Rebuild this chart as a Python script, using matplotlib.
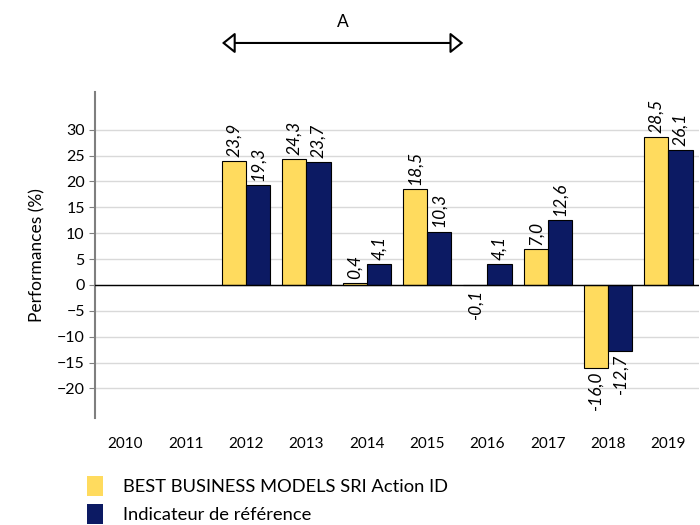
import numpy as np
import matplotlib.pyplot as plt
from matplotlib.patches import Patch

years = ['2010', '2011', '2012', '2013', '2014', '2015', '2016', '2017', '2018', '2019']
fund = [np.nan, np.nan, 23.9, 24.3, 0.4, 18.5, -0.1, 7.0, -16.0, 28.5]
bench = [np.nan, np.nan, 19.3, 23.7, 4.1, 10.3, 4.1, 12.6, -12.7, 26.1]
fund_name = 'BEST BUSINESS MODELS SRI Action ID'
bench_name = 'Indicateur de référence'

yellow = '#FFDB5E'
navy = '#0C1A63'

plt.rcParams['font.family'] = ['Lato', 'DejaVu Sans']

fig = plt.figure(figsize=(7, 5.25), dpi=100)
ax = fig.add_axes([0.136, 0.204, 0.862, 0.621])

x = np.arange(len(years))
w = 0.4
ax.bar(x - w / 2, fund, w, color=yellow, edgecolor='black', linewidth=0.8, zorder=3)
ax.bar(x + w / 2, bench, w, color=navy, edgecolor='black', linewidth=0.8, zorder=3)

for xs, vals in ((x - w / 2, fund), (x + w / 2, bench)):
    for xi, v in zip(xs, vals):
        if np.isnan(v):
            continue
        lab = f'{v:.1f}'.replace('.', ',')
        if v >= 0:
            ax.annotate(lab, (xi, v), xytext=(0, 3), textcoords='offset points',
                        rotation=90, ha='center', va='bottom', fontsize=12.5, style='italic')
        else:
            ax.annotate(lab, (xi, v), xytext=(0, -3), textcoords='offset points',
                        rotation=90, ha='center', va='top', fontsize=12.5, style='italic')

ax.set_xlim(-0.5, 9.5)
ax.set_ylim(-25.7, 37.3)
ax.set_yticks(np.arange(-20, 31, 5))
ax.set_xticks(x)
ax.set_xticklabels(years)
ax.tick_params(axis='x', length=0, pad=14, labelsize=11)
ax.tick_params(axis='y', length=4, color='#7f7f7f', labelsize=11.5)
ax.grid(axis='y', color='#d9d9d9', linewidth=1, zorder=0)
ax.axhline(0, color='black', linewidth=1, zorder=4)
for s in ('top', 'right', 'bottom'):
    ax.spines[s].set_visible(False)
ax.spines['left'].set_color('#7f7f7f')
ax.spines['left'].set_linewidth(1.5)
ax.set_ylabel('Performances (%)', fontsize=12.5, labelpad=8)

# period arrow
ax.annotate('', xy=(1.6, 1.15), xytext=(5.6, 1.15),
            xycoords=('data', 'axes fraction'), textcoords=('data', 'axes fraction'),
            arrowprops=dict(arrowstyle='<|-|>,head_length=0.5,head_width=0.4',
                            edgecolor='black', facecolor='white',
                            lw=1.5, mutation_scale=16, shrinkA=0, shrinkB=0),
            annotation_clip=False)
ax.text(3.6, 1.19, 'A', transform=ax.get_xaxis_transform(), ha='center', va='bottom', fontsize=12.5)

handles = [Patch(facecolor=yellow, edgecolor='none'), Patch(facecolor=navy, edgecolor='none')]
fig.legend(handles, [fund_name, bench_name], loc='upper left', bbox_to_anchor=(0.1, 0.125),
           frameon=False, fontsize=13.2, handlelength=0.9, handleheight=1.3,
           handletextpad=1.1, labelspacing=0.45)

fig.savefig('out.png', dpi=100)
